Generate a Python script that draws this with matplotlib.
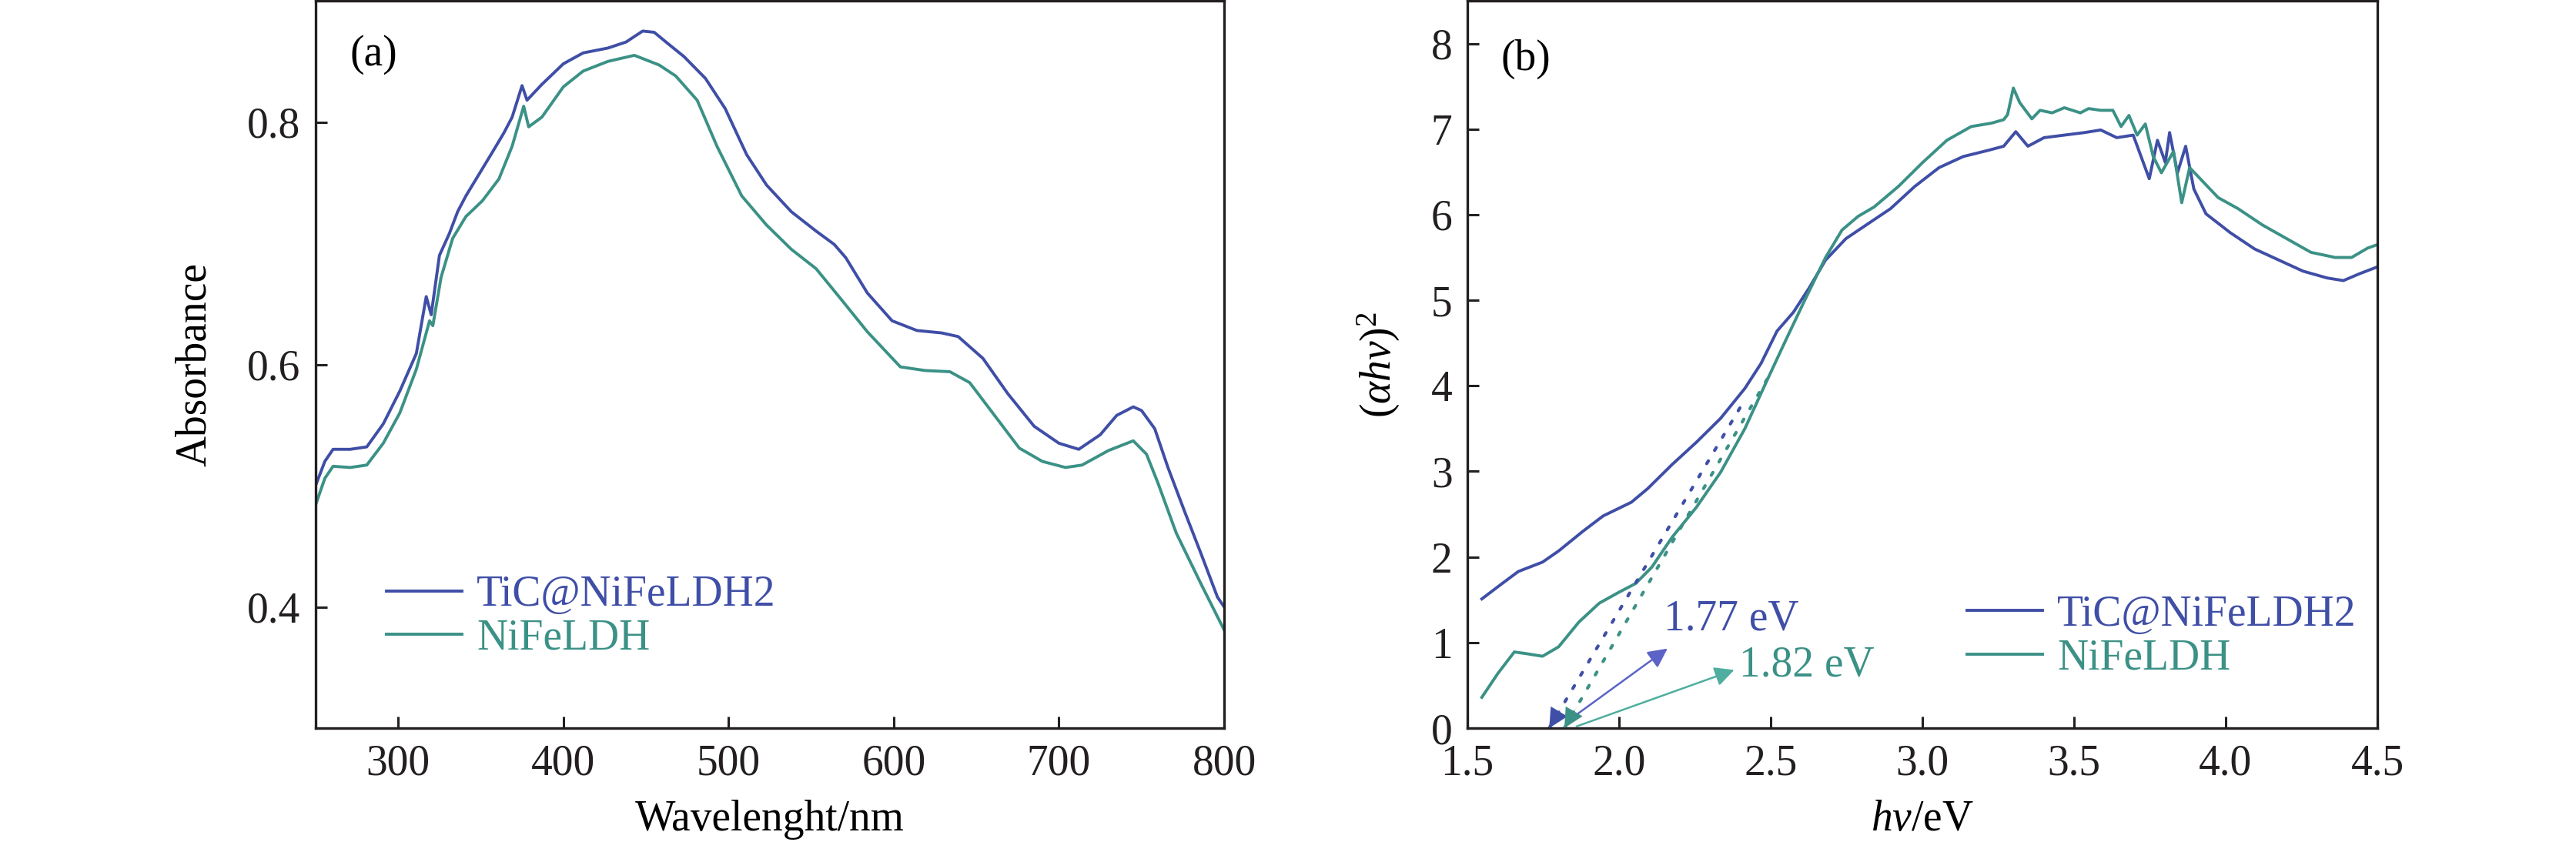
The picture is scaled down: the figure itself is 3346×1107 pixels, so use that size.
import matplotlib
matplotlib.use("Agg")
import matplotlib.pyplot as plt
import numpy as np

plt.rcParams['font.family'] = ['Liberation Serif', 'DejaVu Serif']
plt.rcParams['mathtext.fontset'] = 'custom'
plt.rcParams['mathtext.rm'] = 'Liberation Serif'
plt.rcParams['mathtext.it'] = 'Liberation Serif:italic'
plt.rcParams['mathtext.bf'] = 'Liberation Serif:bold'

BLUE = '#3f4ea6'
TEAL = '#3b9186'
BLUE_L = '#5b63c6'
TEAL_L = '#4fae9f'

# ---------------- Panel (a) data ----------------
wl_tic = [250, 255.6, 260.6, 271, 281, 291, 301, 311, 317, 320, 325, 331, 336, 341, 349, 357,
          364, 369, 375, 378, 387, 400, 412, 427, 438, 448, 455, 463, 473, 486, 498, 511,
          523, 538, 553, 564, 571, 584, 599, 614, 629, 639, 654, 669, 685, 700, 712, 725,
          735, 745, 750, 758, 766, 776, 786, 796, 800]
abs_tic = [0.500, 0.520, 0.530, 0.530, 0.532, 0.551, 0.578, 0.609, 0.656, 0.641, 0.690, 0.708,
           0.726, 0.739, 0.757, 0.775, 0.791, 0.804, 0.830, 0.818, 0.831, 0.848, 0.857, 0.861,
           0.866, 0.875, 0.874, 0.865, 0.854, 0.836, 0.811, 0.773, 0.748, 0.726, 0.710, 0.699,
           0.688, 0.659, 0.636, 0.628, 0.626, 0.623, 0.605, 0.576, 0.549, 0.535, 0.530, 0.542,
           0.558, 0.565, 0.562, 0.547, 0.515, 0.479, 0.444, 0.408, 0.400]

wl_ldh = [250, 255.6, 260.6, 271, 281, 291, 301, 311, 319, 321, 326, 333, 341, 351, 361, 369,
          376, 379, 387, 400, 412, 427, 443, 458, 468, 481, 493, 508, 523, 538, 553, 568,
          584, 604, 619, 634, 646, 661, 676, 690, 704, 714, 730, 745, 753, 760, 771, 786, 800]
abs_ldh = [0.484, 0.506, 0.516, 0.515, 0.517, 0.535, 0.560, 0.596, 0.636, 0.632, 0.672, 0.704,
           0.722, 0.735, 0.753, 0.780, 0.813, 0.796, 0.804, 0.829, 0.842, 0.850, 0.855, 0.847,
           0.838, 0.818, 0.780, 0.739, 0.715, 0.695, 0.679, 0.654, 0.627, 0.598, 0.595, 0.594,
           0.585, 0.558, 0.531, 0.520, 0.515, 0.517, 0.529, 0.537, 0.526, 0.502, 0.461, 0.419,
           0.381]

# ---------------- Panel (b) data ----------------
hv_tic = [1.548, 1.615, 1.668, 1.748, 1.801, 1.881, 1.948, 2.041, 2.095, 2.175, 2.255, 2.335,
          2.415, 2.468, 2.521, 2.575, 2.628, 2.681, 2.748, 2.815, 2.895, 2.975, 3.055, 3.135,
          3.215, 3.268, 3.308, 3.348, 3.401, 3.468, 3.535, 3.588, 3.641, 3.695, 3.721, 3.748,
          3.775, 3.801, 3.815, 3.841, 3.868, 3.895, 3.935, 4.015, 4.095, 4.175, 4.255, 4.335,
          4.388, 4.441, 4.5]
tauc_tic = [1.51, 1.69, 1.83, 1.94, 2.07, 2.30, 2.48, 2.64, 2.80, 3.08, 3.34, 3.62, 3.97, 4.26,
            4.64, 4.86, 5.15, 5.47, 5.72, 5.88, 6.07, 6.33, 6.55, 6.68, 6.75, 6.80, 6.97, 6.80,
            6.90, 6.93, 6.96, 6.99, 6.90, 6.93, 6.68, 6.42, 6.87, 6.61, 6.96, 6.49, 6.80, 6.30,
            6.01, 5.79, 5.60, 5.47, 5.34, 5.26, 5.23, 5.31, 5.39]

hv_ldh = [1.548, 1.601, 1.655, 1.695, 1.748, 1.801, 1.868, 1.935, 2.001, 2.055, 2.108, 2.175,
          2.255, 2.335, 2.415, 2.481, 2.548, 2.615, 2.681, 2.735, 2.788, 2.841, 2.921, 3.001,
          3.081, 3.161, 3.228, 3.268, 3.281, 3.300, 3.321, 3.361, 3.388, 3.428, 3.468, 3.521,
          3.548, 3.588, 3.628, 3.655, 3.681, 3.708, 3.735, 3.761, 3.788, 3.828, 3.855, 3.881,
          3.908, 3.975, 4.041, 4.121, 4.201, 4.281, 4.361, 4.415, 4.468, 4.5]
tauc_ldh = [0.36, 0.64, 0.89, 0.87, 0.84, 0.95, 1.24, 1.46, 1.59, 1.69, 1.88, 2.23, 2.58, 2.99,
            3.50, 4.01, 4.52, 5.02, 5.50, 5.82, 5.98, 6.09, 6.33, 6.61, 6.87, 7.03, 7.07, 7.11,
            7.17, 7.48, 7.31, 7.12, 7.22, 7.19, 7.25, 7.19, 7.24, 7.22, 7.22, 7.03, 7.16, 6.93,
            7.06, 6.68, 6.49, 6.74, 6.14, 6.55, 6.45, 6.20, 6.07, 5.88, 5.72, 5.56, 5.50, 5.50,
            5.61, 5.65]

# band-gap extrapolations (intercept, end point of dotted fit line)
gap_values = [1.77, 1.82]
fit_end_x = [2.40, 2.50]
fit_end_y = [3.75, 4.15]
gap_labels = ['1.77 eV', '1.82 eV']
gap_label_pos = [(2.147, 1.27), (2.396, 0.73)]
gap_arrow_tail = [(1.83, 0.08), (1.86, 0.02)]
gap_arrow_tip = [(2.16, 0.93), (2.38, 0.68)]

series_names = ['TiC@NiFeLDH2', 'NiFeLDH']

FS = 40
fig = plt.figure(figsize=(33.46, 11.07), dpi=100)
axA = fig.add_axes([0.1225, 0.1454, 0.3527, 0.8537])
axB = fig.add_axes([0.5696, 0.1454, 0.3533, 0.8537])

for ax in (axA, axB):
    for s in ax.spines.values():
        s.set_linewidth(2.4)
        s.set_color('#231f20')
    ax.tick_params(direction='in', length=11, width=2.2, labelsize=FS, colors='#231f20',
                   top=False, right=False)
    ax.tick_params(axis='x', pad=15)
    ax.tick_params(axis='y', pad=14)

# ---- Panel (a)
lA1, = axA.plot(wl_tic, abs_tic, color=BLUE, lw=2.8, label=series_names[0])
lA2, = axA.plot(wl_ldh, abs_ldh, color=TEAL, lw=2.8, label=series_names[1])
axA.set_xlim(250, 800)
axA.set_ylim(0.3, 0.9)
axA.set_xticks([300, 400, 500, 600, 700, 800])
axA.set_yticks([0.4, 0.6, 0.8])
axA.set_yticklabels(['0.4', '0.6', '0.8'])
axA.set_xlabel('Wavelenght/nm', fontsize=FS, va='center')
axA.set_ylabel('Absorbance', fontsize=FS, va='center')
axA.xaxis.set_label_coords(0.5, -0.126)
axA.yaxis.set_label_coords(-0.133, 0.5)
axA.text(0.038, 0.926, '(a)', transform=axA.transAxes, fontsize=FS, va='center', ha='left')
axA.legend(handles=[lA1, lA2], loc='center left', bbox_to_anchor=(0.078, 0.153),
           frameon=False, fontsize=FS, labelcolor='linecolor', handlelength=1.76,
           handletextpad=0.35, labelspacing=0.08, borderpad=0, borderaxespad=0)

# ---- Panel (b)
lB1, = axB.plot(hv_tic, tauc_tic, color=BLUE, lw=2.8, label=series_names[0])
lB2, = axB.plot(hv_ldh, tauc_ldh, color=TEAL, lw=2.8, label=series_names[1])
axB.set_xlim(1.5, 4.5)
axB.set_ylim(0, 8.5)
axB.set_xticks([1.5, 2.0, 2.5, 3.0, 3.5, 4.0, 4.5])
axB.set_xticklabels(['1.5', '2.0', '2.5', '3.0', '3.5', '4.0', '4.5'])
axB.set_yticks(range(0, 9))
axB.set_xlabel(r'$h\nu$/eV', fontsize=FS, va='center')
axB.set_ylabel(r'$(\alpha h\nu)^2$', fontsize=FS, va='center')
axB.xaxis.set_label_coords(0.5, -0.126)
axB.yaxis.set_label_coords(-0.097, 0.5)
axB.text(0.037, 0.92, '(b)', transform=axB.transAxes, fontsize=FS, va='center', ha='left')
axB.legend(handles=[lB1, lB2], loc='center left', bbox_to_anchor=(0.549, 0.126),
           frameon=False, fontsize=FS, labelcolor='linecolor', handlelength=1.76,
           handletextpad=0.35, labelspacing=0.08, borderpad=0, borderaxespad=0)

dot_cols = [BLUE, TEAL]
light_cols = [BLUE_L, TEAL_L]
for i in range(2):
    g = gap_values[i]
    axB.plot([g, fit_end_x[i]], [0, fit_end_y[i]], color=dot_cols[i], lw=3.0,
             linestyle=(0, (1, 3.8)), dash_capstyle='round')
    # arrow head at the intercept
    t = 0.06
    axB.annotate('', xy=(g, 0), xytext=(g + t * (fit_end_x[i] - g), t * fit_end_y[i]),
                 arrowprops=dict(arrowstyle='-|>', color=dot_cols[i], lw=0.1,
                                 mutation_scale=45, shrinkA=0, shrinkB=0))
    axB.annotate('', xy=gap_arrow_tip[i], xytext=gap_arrow_tail[i],
                 arrowprops=dict(arrowstyle='-|>', color=light_cols[i], lw=1.8,
                                 mutation_scale=38, shrinkA=0, shrinkB=0))
    axB.text(gap_label_pos[i][0], gap_label_pos[i][1], gap_labels[i], color=dot_cols[i],
             fontsize=FS, va='center', ha='left')

fig.savefig('out.png', dpi=100)
